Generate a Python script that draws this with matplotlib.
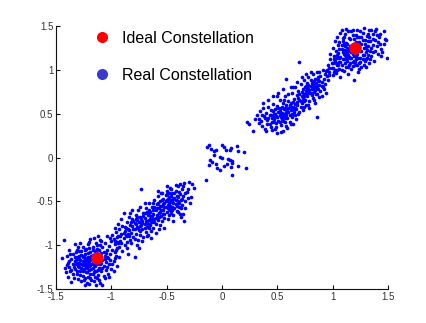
import matplotlib
matplotlib.use("Agg")
import matplotlib.pyplot as plt
from matplotlib.lines import Line2D
import numpy as np

plt.rcParams['font.family'] = ['Liberation Sans', 'DejaVu Sans']

# Ideal constellation points (red)
ideal_x = [-1.13, 1.20]
ideal_y = [-1.15, 1.25]

# Received (real) constellation points, grouped by region
cluster_lower_left = [
    (-1.45,-1.15), (-1.43,-0.94), (-1.42,-1.26), (-1.40,-1.12), (-1.39,-1.20), (-1.38,-1.05), (-1.37,-1.30),
    (-1.36,-1.16), (-1.35,-1.22), (-1.35,-1.10), (-1.34,-1.38), (-1.33,-1.18), (-1.33,-1.27), (-1.32,-1.08),
    (-1.31,-1.14), (-1.31,-1.33), (-1.30,-1.20), (-1.30,-1.02), (-1.29,-1.25), (-1.29,-1.12), (-1.28,-1.17),
    (-1.28,-1.30), (-1.27,-1.07), (-1.27,-1.22), (-1.26,-1.35), (-1.26,-1.14), (-1.25,-1.19), (-1.25,-1.27),
    (-1.25,-1.40), (-1.24,-1.10), (-1.24,-1.23), (-1.23,-1.16), (-1.23,-1.31), (-1.23,-1.04), (-1.22,-1.20),
    (-1.22,-1.26), (-1.22,-1.43), (-1.21,-1.13), (-1.21,-1.36), (-1.20,-1.18), (-1.20,-1.28), (-1.20,-0.96),
    (-1.19,-1.08), (-1.19,-1.23), (-1.19,-1.33), (-1.18,-1.15), (-1.18,-1.21), (-1.18,-1.40), (-1.17,-1.02),
    (-1.17,-1.26), (-1.17,-1.11), (-1.16,-1.19), (-1.16,-1.31), (-1.16,-0.92), (-1.15,-1.24), (-1.15,-1.07),
    (-1.15,-1.36), (-1.14,-1.16), (-1.14,-1.29), (-1.14,-1.45), (-1.13,-1.10), (-1.13,-1.22), (-1.13,-1.00),
    (-1.12,-1.34), (-1.12,-1.18), (-1.11,-1.26), (-1.11,-1.05), (-1.11,-1.40), (-1.10,-1.13), (-1.10,-1.21),
    (-1.10,-0.94), (-1.09,-1.30), (-1.09,-1.09), (-1.08,-1.17), (-1.08,-1.45), (-1.08,-1.02), (-1.07,-1.24),
    (-1.07,-1.35), (-1.06,-1.12), (-1.06,-0.97), (-1.05,-1.19), (-1.05,-1.28), (-1.04,-1.06), (-1.04,-0.90),
    (-1.03,-1.15), (-1.03,-1.33), (-1.02,-1.01), (-1.02,-1.22), (-1.01,-1.10), (-1.00,-0.95), (-1.00,-1.27),
    (-0.99,-1.05), (-0.98,-1.18), (-0.97,-0.99), (-0.96,-1.12), (-0.95,-1.24), (-0.95,-1.03),
    (-1.26,-1.18), (-1.24,-1.16), (-1.21,-1.22), (-1.19,-1.17), (-1.17,-1.20), (-1.23,-1.25), (-1.27,-1.26),
    (-1.30,-1.24), (-1.32,-1.21), (-1.29,-1.16), (-1.25,-1.12), (-1.21,-1.09), (-1.18,-1.27), (-1.22,-1.31),
    (-1.26,-1.29), (-1.34,-1.25), (-1.36,-1.28), (-1.28,-1.34), (-1.31,-1.29), (-1.15,-1.14), (-1.12,-1.28),
    (-1.09,-1.20), (-1.06,-1.16), (-1.13,-1.04), (-1.17,-1.06), (-1.20,-1.03), (-1.24,-1.06), (-1.29,-1.07),
    (-1.33,-1.13), (-1.38,-1.18), (-1.40,-1.23), (-1.37,-1.10), (-1.14,-0.97), (-1.10,-1.00), (-1.07,-1.08),
    (-1.04,-1.13), (-1.01,-1.17), (-1.19,-1.37), (-1.16,-1.41), (-1.13,-1.38), (-1.24,-1.38), (-1.27,-1.41),
    (-1.20,-1.44), (-1.10,-1.43),
    (-1.41,-1.31), (-1.39,-1.36), (-1.36,-1.42), (-1.33,-0.99), (-1.30,-1.39), (-1.28,-0.98), (-1.26,-1.02),
    (-1.24,-1.45), (-1.21,-0.99), (-1.19,-0.93), (-1.17,-1.33), (-1.15,-1.30), (-1.12,-0.90), (-1.09,-0.95),
    (-1.06,-1.38), (-1.04,-1.25), (-1.02,-1.36), (-1.01,-0.92), (-0.99,-1.21), (-0.98,-1.30), (-0.97,-1.15),
    (-0.96,-1.05), (-0.94,-0.97), (-0.93,-1.14), (-1.27,-1.11), (-1.23,-1.19), (-1.20,-1.24), (-1.16,-1.23),
    (-1.14,-1.08), (-1.11,-1.15), (-1.08,-1.26), (-1.05,-1.09), (-1.32,-1.17), (-1.35,-1.33), (-1.38,-1.25),
    (-1.29,-1.20), (-1.26,-1.23), (-1.22,-1.15), (-1.18,-1.12), (-1.31,-1.05),
]

cluster_lower_mid = [
    (-0.99,-0.88), (-0.98,-0.93), (-0.97,-1.08), (-0.96,-0.85), (-0.95,-0.96), (-0.94,-0.90), (-0.93,-1.02),
    (-0.93,-0.82), (-0.92,-0.95), (-0.91,-0.87), (-0.90,-1.07), (-0.90,-0.78), (-0.89,-0.92), (-0.88,-0.84),
    (-0.88,-1.00), (-0.87,-0.88), (-0.86,-0.74), (-0.86,-0.96), (-0.85,-0.81), (-0.85,-1.10), (-0.84,-0.90),
    (-0.83,-0.77), (-0.83,-0.63), (-0.82,-0.86), (-0.82,-0.98), (-0.81,-0.70), (-0.80,-0.82), (-0.80,-0.91),
    (-0.79,-0.75), (-0.79,-1.13), (-0.78,-0.66), (-0.78,-0.87), (-0.77,-0.79), (-0.77,-0.71), (-0.76,-0.94),
    (-0.76,-0.60), (-0.75,-0.83), (-0.75,-0.74), (-0.75,-1.03), (-0.74,-0.68), (-0.74,-0.88), (-0.73,-0.77),
    (-0.73,-0.36), (-0.72,-0.72), (-0.72,-0.82), (-0.71,-0.63), (-0.71,-0.91), (-0.70,-0.76), (-0.70,-0.69),
    (-0.69,-0.85), (-0.69,-0.58), (-0.68,-0.73), (-0.68,-0.79), (-0.67,-0.66), (-0.67,-0.88), (-0.66,-0.71),
    (-0.66,-0.52), (-0.65,-0.77), (-0.65,-0.62), (-0.64,-0.84), (-0.64,-0.68), (-0.63,-0.74), (-0.63,-0.57),
    (-0.62,-0.64), (-0.62,-0.80), (-0.61,-0.70), (-0.61,-0.48), (-0.60,-0.60), (-0.60,-0.76), (-0.59,-0.66),
    (-0.59,-0.53), (-0.58,-0.71), (-0.58,-0.44), (-0.57,-0.58), (-0.57,-0.82), (-0.56,-0.62), (-0.56,-0.50),
    (-0.55,-0.67), (-0.55,-0.41), (-0.54,-0.55), (-0.54,-0.73), (-0.53,-0.47), (-0.53,-0.60), (-0.52,-0.52),
    (-0.52,-0.65), (-0.51,-0.43), (-0.51,-0.57), (-0.50,-0.49), (-0.50,-0.62), (-0.50,-0.38), (-0.49,-0.54),
    (-0.49,-0.70), (-0.48,-0.45), (-0.48,-0.59), (-0.47,-0.51), (-0.47,-0.35), (-0.46,-0.63), (-0.46,-0.48),
    (-0.45,-0.56), (-0.45,-0.41), (-0.44,-0.52), (-0.44,-0.66), (-0.43,-0.46), (-0.43,-0.58), (-0.42,-0.38),
    (-0.42,-0.53), (-0.41,-0.61), (-0.41,-0.44), (-0.40,-0.50), (-0.40,-0.32), (-0.39,-0.56), (-0.38,-0.42),
    (-0.38,-0.64), (-0.37,-0.48), (-0.36,-0.36), (-0.36,-0.54), (-0.35,-0.44), (-0.34,-0.72), (-0.34,-0.29),
    (-0.33,-0.50), (-0.32,-0.39), (-0.31,-0.46), (-0.30,-0.28), (-0.25,-0.35), (-0.35,-0.64), (-0.28,-0.45),
    (-0.80,-0.72), (-0.78,-0.76), (-0.76,-0.80), (-0.74,-0.78), (-0.72,-0.75), (-0.70,-0.80), (-0.73,-0.70),
    (-0.71,-0.67), (-0.69,-0.72), (-0.67,-0.76), (-0.66,-0.80), (-0.64,-0.74), (-0.62,-0.71), (-0.77,-0.68),
    (-0.79,-0.82), (-0.81,-0.78), (-0.84,-0.83), (-0.87,-0.80), (-0.89,-0.86), (-0.92,-0.90), (-0.95,-0.91),
    (-0.97,-0.95), (-0.53,-0.53), (-0.51,-0.50), (-0.49,-0.47), (-0.47,-0.55), (-0.45,-0.50), (-0.52,-0.57),
    (-0.54,-0.49), (-0.56,-0.55), (-0.48,-0.52), (-0.46,-0.44), (-0.44,-0.47), (-0.42,-0.49), (-0.55,-0.60),
    (-0.57,-0.63), (-0.59,-0.58), (-0.61,-0.56), (-0.63,-0.67), (-0.65,-0.70), (-0.68,-0.62), (-0.60,-0.69),
    (-0.58,-0.52), (-0.50,-0.42), (-0.48,-0.40), (-0.43,-0.41), (-0.40,-0.45), (-0.39,-0.52), (-0.37,-0.58),
    (-0.47,-0.60), (-0.44,-0.58), (-0.52,-0.69), (-0.62,-0.60), (-0.85,-0.87), (-0.83,-0.94), (-0.91,-0.98),
    (-0.97,-0.80), (-0.94,-0.76), (-0.91,-0.70), (-0.89,-0.63), (-0.86,-1.03), (-0.84,-0.68), (-0.81,-0.60),
    (-0.79,-0.93), (-0.77,-1.00), (-0.74,-0.57), (-0.72,-0.95), (-0.70,-0.52), (-0.68,-0.90), (-0.66,-0.60),
    (-0.64,-0.92), (-0.62,-0.52), (-0.60,-0.86), (-0.58,-0.38), (-0.56,-0.77), (-0.54,-0.40), (-0.52,-0.80),
    (-0.50,-0.33), (-0.48,-0.66), (-0.46,-0.36), (-0.44,-0.72), (-0.42,-0.31), (-0.40,-0.62), (-0.38,-0.30),
    (-0.37,-0.68), (-0.35,-0.33), (-0.33,-0.58), (-0.31,-0.36), (-0.29,-0.52), (-0.27,-0.30), (-0.33,-0.41),
    (-0.36,-0.47), (-0.39,-0.39), (-0.41,-0.55), (-0.45,-0.60), (-0.49,-0.58), (-0.53,-0.64), (-0.57,-0.68),
    (-0.61,-0.74), (-0.66,-0.66), (-0.70,-0.63), (-0.74,-0.84), (-0.78,-0.70), (-0.82,-0.74), (-0.86,-0.90),
    (-0.88,-0.79),
]

cluster_center = [
    (-0.117,0.143), (-0.136,0.120), (-0.099,0.097), (-0.072,0.074), (-0.054,0.086), (0.000,0.143),
    (0.018,0.120), (0.036,0.086), (0.072,0.086), (0.081,0.108), (0.135,0.131), (0.145,0.074),
    (0.199,0.063), (-0.072,0.029), (-0.018,0.006), (0.000,-0.006), (0.054,-0.017), (0.072,-0.028),
    (0.090,-0.040), (-0.108,-0.028), (-0.090,-0.051), (-0.117,-0.086), (-0.054,-0.074), (-0.045,-0.120),
    (0.018,-0.097), (0.045,-0.074), (0.090,-0.063), (0.081,-0.108), (0.145,-0.097), (0.217,-0.120),
    (0.090,-0.200), (-0.018,-0.143), (-0.145,-0.257),
]

cluster_upper_mid = [
    (0.23,0.40), (0.24,0.38), (0.28,0.30), (0.32,0.48), (0.34,0.53), (0.35,0.42), (0.36,0.36), (0.37,0.56),
    (0.38,0.47), (0.39,0.33), (0.40,0.51), (0.41,0.43), (0.42,0.58), (0.43,0.38), (0.43,0.49), (0.44,0.54),
    (0.45,0.45), (0.45,0.31), (0.46,0.61), (0.47,0.50), (0.47,0.40), (0.48,0.55), (0.49,0.35), (0.49,0.47),
    (0.50,0.28), (0.50,0.59), (0.51,0.52), (0.51,0.42), (0.52,0.66), (0.52,0.48), (0.53,0.37), (0.53,0.56),
    (0.54,0.44), (0.54,0.51), (0.55,0.62), (0.55,0.30), (0.56,0.47), (0.56,0.55), (0.57,0.40), (0.57,0.70),
    (0.58,0.52), (0.58,0.60), (0.59,0.45), (0.59,0.34), (0.60,0.57), (0.60,0.65), (0.61,0.49), (0.61,0.41),
    (0.62,0.62), (0.62,0.54), (0.63,0.74), (0.63,0.46), (0.64,0.58), (0.64,0.38), (0.65,0.67), (0.65,0.52),
    (0.66,0.61), (0.66,0.80), (0.67,0.55), (0.67,0.44), (0.68,0.71), (0.68,0.63), (0.69,0.50), (0.69,0.76),
    (0.70,1.09), (0.70,0.66), (0.71,0.58), (0.71,0.84), (0.72,0.70), (0.72,0.62), (0.73,0.78), (0.73,0.54),
    (0.74,0.73), (0.74,0.88), (0.75,0.66), (0.75,0.80), (0.76,0.60), (0.76,0.76), (0.77,0.85), (0.77,0.70),
    (0.78,0.92), (0.78,0.79), (0.79,0.65), (0.79,0.74), (0.80,0.82), (0.80,0.88), (0.81,0.71), (0.81,0.78),
    (0.82,0.95), (0.82,0.84), (0.83,0.75), (0.83,0.66), (0.84,0.80), (0.84,0.90), (0.85,0.72), (0.85,0.85),
    (0.86,0.46), (0.86,0.98), (0.87,0.78), (0.87,0.88), (0.88,0.69), (0.88,0.83), (0.89,0.93), (0.89,0.76),
    (0.90,0.86), (0.91,0.80), (0.91,1.00), (0.92,0.90), (0.93,0.84), (0.94,0.74), (0.95,0.93), (0.58,0.90),
    (0.62,0.80), (0.55,0.78), (0.50,0.70), (0.74,0.58), (0.79,0.57),
    (0.52,0.53), (0.54,0.58), (0.56,0.50), (0.57,0.45), (0.53,0.46), (0.50,0.46), (0.48,0.50), (0.47,0.44),
    (0.51,0.56), (0.55,0.42), (0.58,0.48), (0.60,0.52), (0.46,0.53), (0.44,0.48), (0.42,0.45), (0.49,0.39),
    (0.52,0.40), (0.59,0.55), (0.62,0.58), (0.64,0.63), (0.66,0.57), (0.68,0.60), (0.63,0.50),
    (0.78,0.83), (0.79,0.77), (0.81,0.85), (0.82,0.79), (0.80,0.74), (0.77,0.74), (0.76,0.81), (0.84,0.77),
    (0.86,0.82), (0.83,0.87), (0.87,0.92), (0.85,0.79), (0.88,0.87), (0.90,0.82), (0.74,0.70), (0.72,0.75),
    (0.70,0.72),
    (0.30,0.44), (0.33,0.39), (0.37,0.62), (0.40,0.30), (0.42,0.66), (0.44,0.35), (0.46,0.70), (0.48,0.32),
    (0.51,0.74), (0.53,0.29), (0.56,0.66), (0.58,0.36), (0.60,0.72), (0.62,0.38), (0.64,0.80), (0.66,0.48),
    (0.68,0.86), (0.70,0.52), (0.72,0.92), (0.74,0.64), (0.76,0.95), (0.78,0.60), (0.80,0.98), (0.82,0.68),
    (0.84,0.62), (0.86,0.72), (0.88,0.97), (0.90,0.70), (0.92,0.78), (0.94,0.99), (0.96,0.88), (0.97,0.94),
    (0.93,0.95), (0.57,0.57), (0.61,0.60), (0.65,0.55), (0.69,0.68), (0.71,0.64), (0.73,0.68), (0.75,0.72),
    (0.77,0.78), (0.83,0.81), (0.55,0.47), (0.53,0.50), (0.47,0.47), (0.45,0.40), (0.41,0.38), (0.39,0.45),
    (0.36,0.49), (0.33,0.44),
]

cluster_upper_right = [
    (0.96,1.05), (0.97,0.98), (0.98,1.12), (0.99,1.02), (1.00,0.94), (1.00,1.08), (1.01,1.16), (1.02,1.00),
    (1.02,1.10), (1.03,1.22), (1.03,0.96), (1.04,1.05), (1.04,1.13), (1.05,1.28), (1.05,1.19), (1.06,1.01),
    (1.06,1.09), (1.07,1.42), (1.07,1.15), (1.07,0.92), (1.08,1.24), (1.08,1.06), (1.09,1.12), (1.09,1.33),
    (1.10,1.18), (1.10,0.99), (1.10,1.38), (1.11,1.08), (1.11,1.27), (1.12,1.14), (1.12,1.21), (1.12,1.03),
    (1.13,1.30), (1.13,1.10), (1.14,1.44), (1.14,1.17), (1.14,0.95), (1.15,1.24), (1.15,1.06), (1.16,1.13),
    (1.16,1.35), (1.17,1.20), (1.17,1.01), (1.18,1.09), (1.18,1.28), (1.18,1.40), (1.19,1.16), (1.19,0.88),
    (1.20,1.22), (1.20,1.05), (1.21,1.32), (1.21,1.12), (1.22,1.18), (1.22,1.45), (1.23,1.26), (1.23,0.98),
    (1.24,1.08), (1.24,1.37), (1.25,1.14), (1.25,1.21), (1.26,1.30), (1.26,1.03), (1.27,1.42), (1.27,1.17),
    (1.28,1.48), (1.28,1.25), (1.29,1.10), (1.29,1.34), (1.30,1.20), (1.30,1.03), (1.31,1.39), (1.31,1.14),
    (1.32,1.27), (1.33,1.45), (1.33,1.08), (1.34,1.22), (1.34,1.33), (1.35,1.16), (1.36,1.41), (1.36,1.28),
    (1.37,1.10), (1.38,1.34), (1.38,1.22), (1.39,1.47), (1.40,1.27), (1.41,1.18), (1.42,1.38), (1.43,1.30),
    (1.44,1.24), (1.46,1.44), (1.47,1.35), (1.48,1.34), (1.49,1.14), (1.45,1.20), (1.40,1.40),
    (1.13,1.19), (1.15,1.15), (1.17,1.13), (1.19,1.10), (1.11,1.17), (1.09,1.20), (1.13,1.25), (1.16,1.27),
    (1.21,1.16), (1.23,1.14), (1.25,1.09), (1.27,1.12), (1.22,1.06), (1.18,1.04), (1.14,1.03), (1.08,1.00),
    (1.06,1.13), (1.04,1.17), (1.01,1.12), (1.03,1.08), (1.10,1.23), (1.12,1.31), (1.15,1.36), (1.19,1.35),
    (1.24,1.32), (1.29,1.29), (1.32,1.33), (1.35,1.25), (1.31,1.23), (1.28,1.17), (1.32,1.17), (1.30,1.12),
    (1.26,1.38), (1.21,1.40), (1.17,1.44), (1.11,1.41), (1.09,1.36), (1.06,1.32), (1.08,1.28), (0.99,1.08),
    (0.97,1.02), (0.95,1.00), (1.00,1.02), (1.05,1.05),
    (0.98,1.18), (1.00,1.25), (1.02,1.33), (1.04,1.38), (1.06,1.24), (1.08,1.45), (1.10,1.30), (1.12,1.47),
    (1.14,1.23), (1.16,1.08), (1.18,1.18), (1.20,1.09), (1.22,1.29), (1.24,1.01), (1.26,1.22), (1.28,1.05),
    (1.30,1.26), (1.32,1.41), (1.34,1.12), (1.36,1.20), (1.38,1.44), (1.41,1.32), (1.43,1.41), (1.44,1.16),
    (1.46,1.29), (1.36,1.35), (1.33,1.37), (1.27,1.34), (1.24,1.26), (1.19,1.30), (1.16,1.22), (1.13,1.14),
    (1.10,1.12), (1.07,1.09), (1.04,1.00), (1.01,0.97), (1.22,1.38), (1.18,1.46), (1.25,1.44), (1.35,1.46),
]

legend_labels = ["Ideal Constellation", "Real Constellation"]
x_ticks = [-1.5, -1, -0.5, 0, 0.5, 1, 1.5]
y_ticks = [-1.5, -1, -0.5, 0, 0.5, 1, 1.5]
tick_labels = ["-1.5", "-1", "-0.5", "0", "0.5", "1", "1.5"]

real_pts = np.array(cluster_lower_left + cluster_lower_mid + cluster_center
                    + cluster_upper_mid + cluster_upper_right)

fig = plt.figure(figsize=(4.27, 3.23), dpi=100)
fig.patch.set_facecolor('white')
ax = fig.add_axes([56/427, 1 - 289/323, 332/427, 263/323])

ax.scatter(real_pts[:, 0], real_pts[:, 1], s=7, c='#0000ff', marker='o',
           linewidths=0, zorder=2)
ax.plot(ideal_x, ideal_y, 'o', color='#ff0000', markersize=9, markeredgewidth=0, zorder=3)

ax.set_xlim(-1.5, 1.5)
ax.set_ylim(-1.5, 1.5)
ax.set_xticks(x_ticks)
ax.set_yticks(y_ticks)
ax.set_xticklabels(tick_labels)
ax.set_yticklabels(tick_labels)
ax.spines['top'].set_visible(False)
ax.spines['right'].set_visible(False)
for s in ('left', 'bottom'):
    ax.spines[s].set_linewidth(0.8)
    ax.spines[s].set_color('#111111')
ax.tick_params(direction='in', length=3, width=0.8, labelsize=7, colors='#111111',
               labelcolor='#333333', pad=2)

handles = [
    Line2D([], [], linestyle='none', marker='o', markersize=8, color='#ff0000', markeredgewidth=0),
    Line2D([], [], linestyle='none', marker='o', markersize=8, color='#3a3acc', markeredgewidth=0),
]
fig.legend(handles, legend_labels, loc='upper left', frameon=False,
           bbox_to_anchor=(93.6/427, 1 - 31/323), bbox_transform=fig.transFigure,
           borderpad=0, borderaxespad=0, handlelength=1.0, handletextpad=0.8,
           labelspacing=1.35, fontsize=11.5, numpoints=1)

fig.savefig('out.png', dpi=100)
